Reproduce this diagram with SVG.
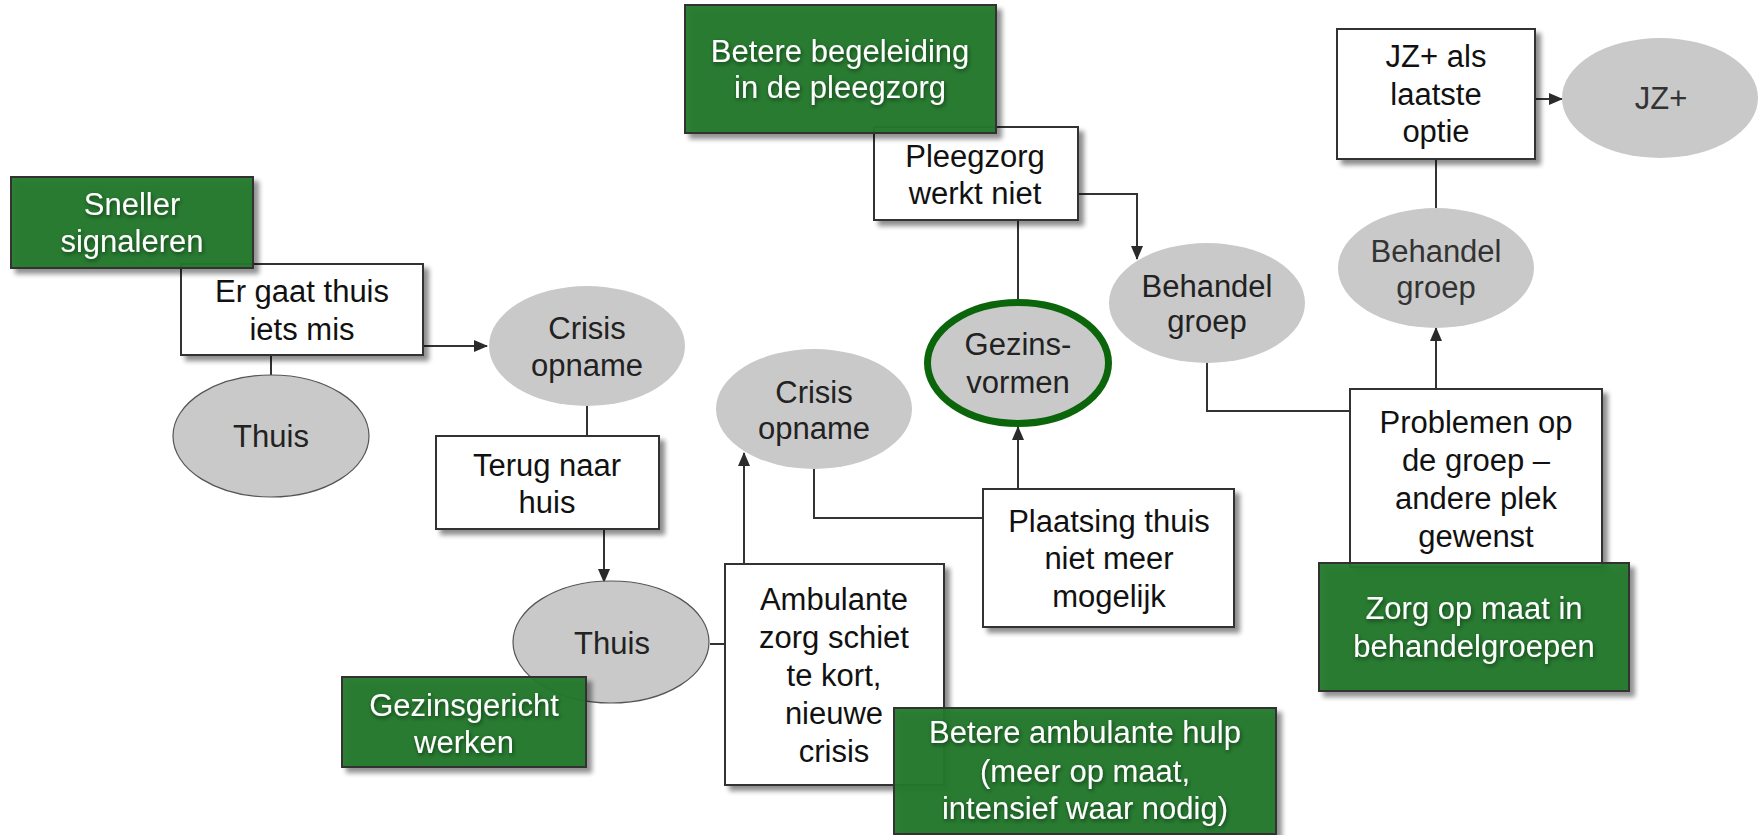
<svg xmlns="http://www.w3.org/2000/svg" width="1759" height="835" viewBox="0 0 1759 835">
<defs>
<filter id="sh" x="-10%" y="-10%" width="130%" height="140%">
<feGaussianBlur in="SourceAlpha" stdDeviation="2.5"/>
<feOffset dx="5" dy="5" result="b"/>
<feComponentTransfer><feFuncA type="linear" slope="0.45"/></feComponentTransfer>
<feMerge><feMergeNode/><feMergeNode in="SourceGraphic"/></feMerge>
</filter>
<filter id="tsh" x="-10%" y="-20%" width="120%" height="140%">
<feGaussianBlur in="SourceAlpha" stdDeviation="2"/>
<feOffset dx="1" dy="2"/>
<feComponentTransfer><feFuncA type="linear" slope="0.5"/></feComponentTransfer>
<feMerge><feMergeNode/><feMergeNode in="SourceGraphic"/></feMerge>
</filter>
<marker id="arr" markerWidth="14" markerHeight="12" refX="13" refY="6" orient="auto" markerUnits="userSpaceOnUse">
<path d="M0,0 L14,6 L0,12 Z" fill="#2b2b2b"/>
</marker>
</defs>
<style>
text{font-family:"Liberation Sans",Arial,sans-serif;font-size:31px;text-anchor:middle}
.box{fill:#fff;stroke:#333;stroke-width:2}
.grn{fill:#23782c;fill-opacity:0.95;stroke:#333;stroke-width:2}
.ell{fill:#c9c9c9}
.ello{fill:#c9c9c9;stroke:#555;stroke-width:1.2}
.bt{fill:#111}
.et{fill:#222}
.gt{fill:#fff}
.con{fill:none;stroke:#333;stroke-width:2}
</style>
<rect width="1759" height="835" fill="#fff"/>

<g id="connectors">
<path class="con" d="M423,346 H487" marker-end="url(#arr)"/>
<path class="con" d="M271,355 V376"/>
<path class="con" d="M587,406 V436"/>
<path class="con" d="M604,529 V582" marker-end="url(#arr)"/>
<path class="con" d="M710,644 H725"/>
<path class="con" d="M744,564 V453" marker-end="url(#arr)"/>
<path class="con" d="M814,469 V518 H983"/>
<path class="con" d="M1018,489 V427" marker-end="url(#arr)"/>
<path class="con" d="M1018,220 V300"/>
<path class="con" d="M1078,194 H1137 V259" marker-end="url(#arr)"/>
<path class="con" d="M1207,363 V411 H1350"/>
<path class="con" d="M1436,388 V328" marker-end="url(#arr)"/>
<path class="con" d="M1436,208 V159"/>
<path class="con" d="M1535,99 H1562" marker-end="url(#arr)"/>
</g>

<g id="n-er-gaat">
<rect class="box" x="181" y="264" width="242" height="91" filter="url(#sh)"/>
<text class="bt" x="302" y="302">Er gaat thuis</text>
<text class="bt" x="302" y="340">iets mis</text>
</g>
<g id="n-thuis1">
<ellipse class="ello" cx="271" cy="436" rx="98" ry="61"/>
<text class="et" x="271" y="447">Thuis</text>
</g>
<g id="n-crisis1">
<ellipse class="ell" cx="587" cy="346" rx="98" ry="60"/>
<text class="et" x="587" y="339">Crisis</text>
<text class="et" x="587" y="376">opname</text>
</g>
<g id="n-terug">
<rect class="box" x="436" y="436" width="223" height="93" filter="url(#sh)"/>
<text class="bt" x="547" y="476">Terug naar</text>
<text class="bt" x="547" y="513">huis</text>
</g>
<g id="n-thuis2">
<ellipse class="ello" cx="611" cy="642" rx="98" ry="61"/>
<text class="et" x="612" y="654">Thuis</text>
</g>
<g id="n-ambulante">
<rect class="box" x="725" y="564" width="219" height="221" filter="url(#sh)"/>
<text class="bt" x="834" y="610">Ambulante</text>
<text class="bt" x="834" y="648">zorg schiet</text>
<text class="bt" x="834" y="686">te kort,</text>
<text class="bt" x="834" y="724">nieuwe</text>
<text class="bt" x="834" y="762">crisis</text>
</g>
<g id="n-crisis2">
<ellipse class="ell" cx="814" cy="409" rx="98" ry="60"/>
<text class="et" x="814" y="403">Crisis</text>
<text class="et" x="814" y="439">opname</text>
</g>
<g id="n-plaatsing">
<rect class="box" x="983" y="489" width="251" height="138" filter="url(#sh)"/>
<text class="bt" x="1109" y="532">Plaatsing thuis</text>
<text class="bt" x="1109" y="569">niet meer</text>
<text class="bt" x="1109" y="607">mogelijk</text>
</g>
<g id="n-gezinsvormen">
<ellipse cx="1018" cy="363" rx="90.5" ry="60.5" fill="#c9c9c9" stroke="#0b660b" stroke-width="7"/>
<text class="et" x="1018" y="355">Gezins-</text>
<text class="et" x="1018" y="393">vormen</text>
</g>
<g id="n-pleegzorg">
<rect class="box" x="874" y="127" width="204" height="93" filter="url(#sh)"/>
<text class="bt" x="975" y="167">Pleegzorg</text>
<text class="bt" x="975" y="204">werkt niet</text>
</g>
<g id="n-behandel1">
<ellipse class="ell" cx="1207" cy="303" rx="98" ry="60"/>
<text class="et" x="1207" y="297">Behandel</text>
<text class="et" x="1207" y="332">groep</text>
</g>
<g id="n-problemen">
<rect class="box" x="1350" y="389" width="252" height="178" filter="url(#sh)"/>
<text class="bt" x="1476" y="433">Problemen op</text>
<text class="bt" x="1476" y="471">de groep –</text>
<text class="bt" x="1476" y="509">andere plek</text>
<text class="bt" x="1476" y="547">gewenst</text>
</g>
<g id="n-behandel2">
<ellipse class="ell" cx="1436" cy="268" rx="98" ry="60"/>
<text x="1436" y="262" fill="#333">Behandel</text>
<text x="1436" y="298" fill="#333">groep</text>
</g>
<g id="n-jzlaatste">
<rect class="box" x="1337" y="29" width="198" height="130" filter="url(#sh)"/>
<text class="bt" x="1436" y="67">JZ+ als</text>
<text class="bt" x="1436" y="105">laatste</text>
<text class="bt" x="1436" y="142">optie</text>
</g>
<g id="n-jz">
<ellipse class="ell" cx="1660" cy="98" rx="98" ry="60"/>
<text x="1661" y="109" fill="#333">JZ+</text>
</g>

<g id="g-sneller">
<rect class="grn" x="11" y="177" width="242" height="91" filter="url(#sh)"/>
<g filter="url(#tsh)">
<text class="gt" x="132" y="215">Sneller</text>
<text class="gt" x="132" y="252">signaleren</text>
</g>
</g>
<g id="g-gezinsgericht">
<rect class="grn" x="342" y="677" width="244" height="90" filter="url(#sh)"/>
<g filter="url(#tsh)">
<text class="gt" x="464" y="716">Gezinsgericht</text>
<text class="gt" x="464" y="753">werken</text>
</g>
</g>
<g id="g-begeleiding">
<rect class="grn" x="685" y="5" width="311" height="128" filter="url(#sh)"/>
<g filter="url(#tsh)">
<text class="gt" x="840" y="62">Betere begeleiding</text>
<text class="gt" x="840" y="98">in de pleegzorg</text>
</g>
</g>
<g id="g-zorgopmaat">
<rect class="grn" x="1319" y="563" width="310" height="128" filter="url(#sh)"/>
<g filter="url(#tsh)">
<text class="gt" x="1474" y="619">Zorg op maat in</text>
<text class="gt" x="1474" y="657">behandelgroepen</text>
</g>
</g>
<g id="g-ambulantehulp">
<rect class="grn" x="894" y="708" width="382" height="126" filter="url(#sh)"/>
<g filter="url(#tsh)">
<text class="gt" x="1085" y="743">Betere ambulante hulp</text>
<text class="gt" x="1085" y="782">(meer op maat,</text>
<text class="gt" x="1085" y="819">intensief waar nodig)</text>
</g>
</g>
</svg>
